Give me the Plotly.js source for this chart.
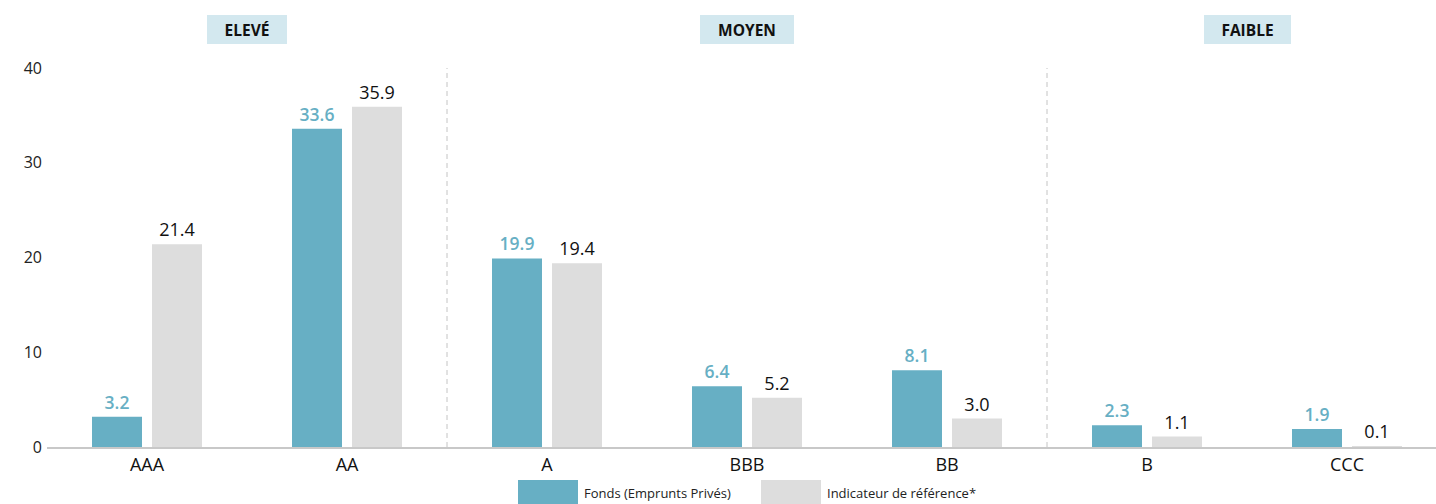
<!DOCTYPE html>
<html>
<head>
<meta charset="utf-8">
<script src="https://cdn.plot.ly/plotly-3.0.1.min.js"></script>
<style>
  html, body { margin: 0; padding: 0; background: #ffffff; }
  #chart { width: 1436px; height: 504px; }
</style>
</head>
<body>
<div id="chart"></div>
<script>
// ---- Data ----
const categories = ["AAA", "AA", "A", "BBB", "BB", "B", "CCC"];
const fonds = [3.2, 33.6, 19.9, 6.4, 8.1, 2.3, 1.9];
const indicateur = [21.4, 35.9, 19.4, 5.2, 3.0, 1.1, 0.1];
const seriesNames = ["Fonds (Emprunts Privés)", "Indicateur de référence*"];
const groupLabels = ["ELEVÉ", "MOYEN", "FAIBLE"];
const groupCenters = [0.5, 3, 5.5];
const groupDividers = [1.5, 4.5];
const yTicks = [0, 10, 20, 30, 40];

// ---- Layout geometry ----
const W = 1436, H = 504;
const mL = 47, mR = 0, mT = 68, mB = 57;
const plotW = W - mL - mR, plotH = H - mT - mB;
const px2x = px => (px - mL) / plotW;
const py2y = py => (H - mB - py) / plotH;

const blue = "#67afc4";
const grey = "#dddddd";
const font = "Open Sans, Noto Sans, sans-serif";

const traces = [
  {
    type: "bar", x: categories, y: fonds, name: seriesNames[0],
    marker: { color: blue }, width: 0.25, offset: -0.275,
    text: fonds.map(v => v.toFixed(1)), textposition: "outside",
    textfont: { family: font, size: 17.5, color: blue, weight: 600 },
    cliponaxis: false, hoverinfo: "x+y"
  },
  {
    type: "bar", x: categories, y: indicateur, name: seriesNames[1],
    marker: { color: grey }, width: 0.25, offset: 0.025,
    text: indicateur.map(v => v.toFixed(1)), textposition: "outside",
    textfont: { family: font, size: 18, color: "#111111" },
    cliponaxis: false, hoverinfo: "x+y"
  }
];

const shapes = groupDividers.map(d => ({
  type: "line", xref: "x", yref: "y", x0: d, x1: d, y0: 0, y1: 40,
  line: { color: "#c4c4c4", width: 1, dash: "5px,4px" }
}));

// custom legend swatches
shapes.push({ type: "rect", xref: "paper", yref: "paper",
  x0: px2x(518), x1: px2x(578), y0: py2y(480), y1: py2y(504),
  line: { width: 0 }, fillcolor: blue });
shapes.push({ type: "rect", xref: "paper", yref: "paper",
  x0: px2x(761), x1: px2x(821), y0: py2y(480), y1: py2y(504),
  line: { width: 0 }, fillcolor: grey });

const boxWidths = [80, 94, 87];
const annotations = groupLabels.map((g, i) => ({
  text: "<b>" + g + "</b>", xref: "x", yref: "paper",
  x: groupCenters[i], y: py2y(29.5), xanchor: "center", yanchor: "middle",
  showarrow: false, bgcolor: "#d3e8ef", borderpad: 4, borderwidth: 0,
  width: boxWidths[i] - 8, height: 21,
  font: { family: font, size: 15.5, color: "#111111" }
}));
annotations.push({ text: seriesNames[0], xref: "paper", yref: "paper",
  x: px2x(582), y: py2y(493), xanchor: "left", yanchor: "middle", showarrow: false,
  font: { family: font, size: 13, color: "#222222" } });
annotations.push({ text: seriesNames[1], xref: "paper", yref: "paper",
  x: px2x(825), y: py2y(493), xanchor: "left", yanchor: "middle", showarrow: false,
  font: { family: font, size: 13, color: "#222222" } });

const layout = {
  width: W, height: H,
  margin: { l: mL, r: mR, t: mT, b: mB, pad: 0 },
  paper_bgcolor: "#ffffff", plot_bgcolor: "#ffffff",
  showlegend: false,
  barmode: "group",
  font: { family: font, color: "#222222" },
  xaxis: {
    type: "category", range: [-0.5, -0.5 + plotW / 200],
    showline: true, linecolor: "#c8c8c8", linewidth: 2,
    ticks: "", showgrid: false, zeroline: false,
    tickfont: { family: font, size: 18, color: "#111111" }
  },
  yaxis: {
    range: [0, 40], tickvals: yTicks, ticktext: yTicks.map(String),
    showline: false, showgrid: false, zeroline: false, ticks: "",
    ticklabelstandoff: 4,
    tickfont: { family: font, size: 16, color: "#222222" }
  },
  shapes: shapes,
  annotations: annotations
};

Plotly.newPlot("chart", traces, layout, { displayModeBar: false, staticPlot: true });
</script>
</body>
</html>
